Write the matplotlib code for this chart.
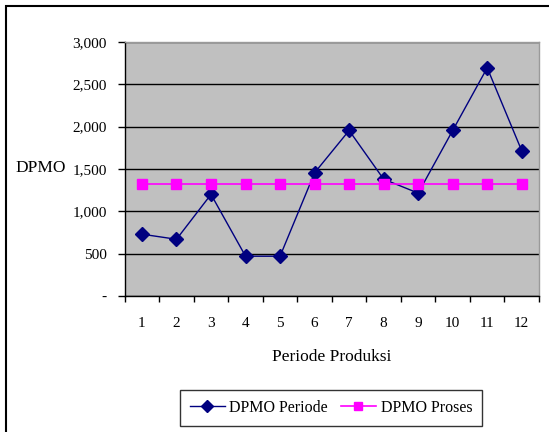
import matplotlib
matplotlib.use("Agg")
import matplotlib.pyplot as plt
from matplotlib.patches import Rectangle
from matplotlib.ticker import FixedLocator, NullFormatter

# data
periods = ["1", "2", "3", "4", "5", "6", "7", "8", "9", "10", "11", "12"]
dpmo_periode = [730, 670, 1200, 470, 470, 1455, 1955, 1380, 1215, 1955, 2695, 1715]
dpmo_proses = [1325] * 12
y_ticks = [0, 500, 1000, 1500, 2000, 2500, 3000]
y_labels = ["-", "500", "1,000", "1,500", "2,000", "2,500", "3,000"]

plt.rcParams["font.family"] = ["Liberation Serif", "DejaVu Serif"]
plt.rcParams["font.size"] = 11

fig = plt.figure(figsize=(5.49, 4.32), dpi=100)

# outer chart frame (runs off the right/bottom edges like the screenshot)
fig.patches.append(Rectangle((6 / 549, -0.05), 1.1, 1 - 6 / 432 + 0.05,
                             transform=fig.transFigure, fill=False,
                             edgecolor="black", linewidth=1.5))

ax = fig.add_axes([124.7 / 549, 1 - 296 / 432, (539 - 124.7) / 549, (296 - 42) / 432])
ax.set_facecolor("#C0C0C0")

x = list(range(len(periods)))
ax.plot(x, dpmo_periode, color="#000080", linewidth=1, marker="D",
        markersize=7.5, label="DPMO Periode", zorder=3)
ax.plot(x, dpmo_proses, color="#FF00FF", linewidth=1.2, marker="s",
        markersize=7, label="DPMO Proses", zorder=4)

ax.set_xlim(-0.5, len(periods) - 0.5)
ax.set_ylim(0, 3000)

ax.set_yticks(y_ticks)
ax.set_yticklabels(y_labels)
ax.yaxis.grid(True, color="black", linewidth=1)
ax.set_axisbelow(True)

# category labels at centres, tick marks at boundaries
ax.set_xticks(x)
ax.set_xticklabels(periods)
ax.tick_params(axis="x", which="major", length=0, pad=15)
ax.xaxis.set_minor_locator(FixedLocator([i - 0.5 for i in range(len(periods) + 1)]))
ax.xaxis.set_minor_formatter(NullFormatter())
ax.tick_params(axis="x", which="minor", length=4, width=1, color="black")
ax.tick_params(axis="y", length=5, width=1, pad=8)

for side in ["left", "bottom"]:
    ax.spines[side].set_color("black")
    ax.spines[side].set_linewidth(1)
for side in ["top", "right"]:
    ax.spines[side].set_color("#9a9a9a")
    ax.spines[side].set_linewidth(1)

ax.set_xlabel("Periode Produksi", fontsize=12.5, labelpad=14)
fig.text(15 / 549, 1 - 168 / 432, "DPMO", fontsize=12.5, ha="left", va="center")

leg = fig.legend(loc="center", bbox_to_anchor=(331 / 549, 1 - 408 / 432), ncol=2,
                 frameon=True, fancybox=False, edgecolor="black", fontsize=11.5,
                 handlelength=2.2, columnspacing=0.8, handletextpad=0.3,
                 borderpad=0.6, markerscale=0.85)
leg.get_frame().set_linewidth(1)

fig.savefig("out.png", dpi=100)
